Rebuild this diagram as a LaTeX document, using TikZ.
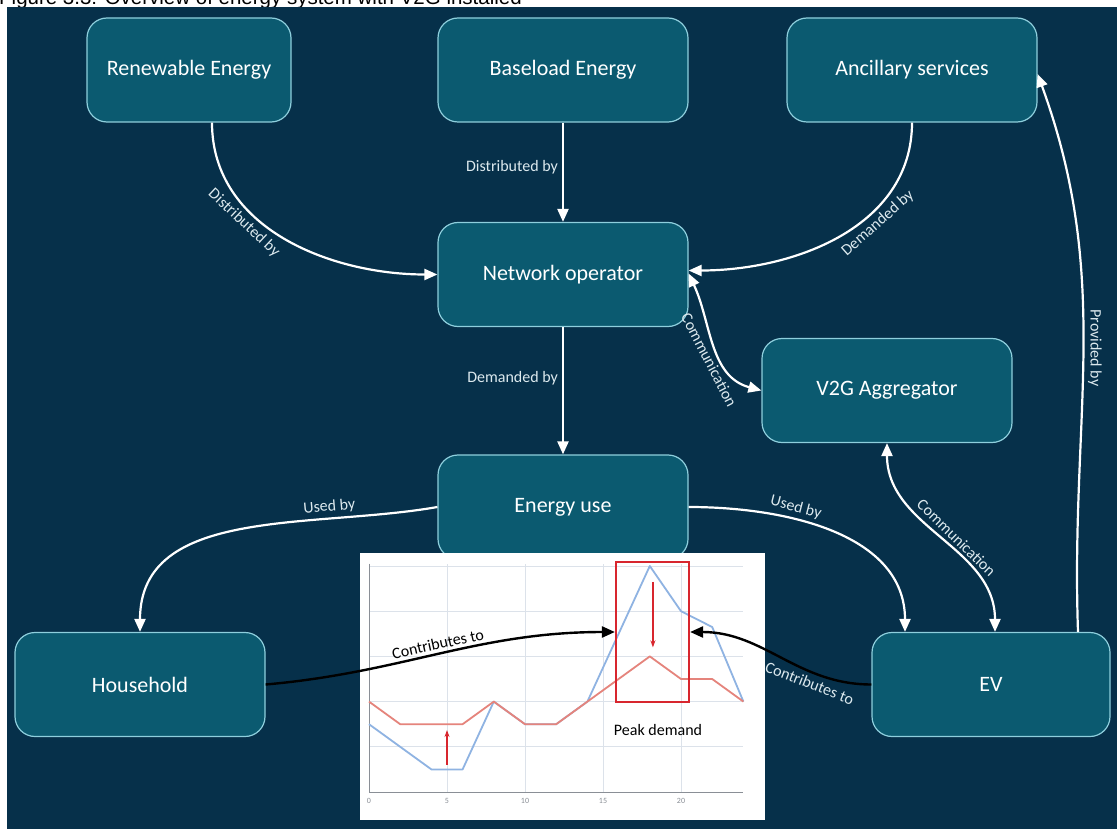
\documentclass[tikz,border=0pt]{standalone}
\usepackage{fontspec}
\setmainfont{Carlito}
\newfontfamily\capfont{Liberation Sans}
\usetikzlibrary{arrows.meta}

\definecolor{navybg}{HTML}{06304A}
\definecolor{boxteal}{HTML}{0B5A70}
\definecolor{boxline}{HTML}{8ECFDD}
\definecolor{tagwhite}{HTML}{DCE9EE}
\definecolor{gridgrey}{HTML}{DCE2EA}
\definecolor{axisgrey}{HTML}{8A8F96}
\definecolor{demandblue}{HTML}{8FB3E2}
\definecolor{demandred}{HTML}{E5847C}
\definecolor{peakred}{HTML}{D8262E}

\begin{document}
\begin{tikzpicture}[x=1pt, y=-1pt,
    box/.style={draw=boxline, line width=1.2pt, fill=boxteal, rounded corners=20pt,
        minimum width=250pt, minimum height=104pt, text=white, font=\fontsize{22}{26}\selectfont},
    flow/.style={draw=white, line width=2.2pt, -{Triangle[length=13pt,width=11pt]}},
    twoway/.style={flow, {Triangle[length=13pt,width=11pt]}-{Triangle[length=13pt,width=11pt]}},
    backflow/.style={flow, {Triangle[length=13pt,width=11pt]}-},
    tag/.style={text=tagwhite, font=\fontsize{16}{19}\selectfont, inner sep=4pt},
    contrib/.style={draw=black, line width=2.4pt, -{Triangle[length=13pt,width=11pt]}},
    gridline/.style={draw=gridgrey, line width=0.9pt},
    curveline/.style={line width=1.8pt, line join=round},
    redarrow/.style={draw=peakred, line width=1.3pt, -{Stealth[length=7pt,width=5pt]}}]
    \useasboundingbox (0,0) rectangle (1117,829);

    % caption and background
    \node[anchor=base west, inner sep=0, font=\capfont\fontsize{20.5}{24}\selectfont] at (-1,5) (caption)
        {Figure 3.3: Overview of energy system with V2G installed};
    \fill[navybg] (7,7) rectangle (1117,829);

    % boxes
    \node[box, minimum width=204pt] at (189,70) (ren) {Renewable Energy};
    \node[box] at (563,70) (base) {Baseload Energy};
    \node[box] at (912,70) (anc) {Ancillary services};
    \node[box] at (563,274.5) (net) {Network operator};
    \node[box] at (887,390.5) (agg) {V2G Aggregator};
    \node[box] at (563,507) (use) {Energy use};
    \node[box] at (140,684.5) (home) {Household};
    \node[box, minimum width=238pt] at (991,684.5) (ev) {EV};

    % flows
    \draw[flow] ([xshift=23pt]ren.south) to[out=-90,in=180] node[tag, pos=0.36, sloped, below] {Distributed by} (net.west);
    \draw[flow] (base.south) -- node[tag, pos=0.45, left] {Distributed by} (net.north);
    \draw[flow] (anc.south) to[out=-90,in=0] node[tag, pos=0.37, sloped, below] {Demanded by} ([yshift=4pt]net.east);
    \draw[twoway] ([yshift=1pt]net.east) to[out=-65,in=165] node[tag, pos=0.58, sloped, below] {Communication} (agg.west);
    \draw[flow] (net.south) -- node[tag, pos=0.4, left] {Demanded by} (use.north);
    \draw[flow] (use.west) to[out=190,in=90] node[tag, pos=0.27, sloped, above] {Used by} (home.north);
    \draw[flow] (use.east) to[out=0,in=90] node[tag, pos=0.35, sloped, above] {Used by} ([xshift=-86pt]ev.north);
    \draw[twoway] (agg.south) to[out=-90,in=90] node[tag, pos=0.55, sloped, above] {Communication} ([xshift=4pt]ev.north);
    \draw[backflow] ([yshift=-4pt]anc.east) to[out=-70,in=92] node[tag, pos=0.5, rotate=-90, above] {Provided by} ([xshift=87pt]ev.north);

    % demand chart
    \fill[white] (360,553) rectangle (765,820);
    \begin{scope}[shift={(369,792)}, x=15.6pt, y=45.2pt]
        \foreach \v in {1,...,5}
            \draw[gridline] (0,\v) -- (24,\v);
        \foreach \h in {5,10,15,20}
            \draw[gridline] (\h,0) -- (\h,5.05);
        \draw[axisgrey, line width=1pt] (0,5.05) -- (0,0) -- (24,0);
        \foreach \h in {0,5,...,20}
            \node[text=axisgrey, font=\fontsize{8}{9}\selectfont] at (\h,-0.2) {\h};
        \draw[curveline, demandblue] (0,1.5) -- (4,0.5) -- (6,0.5) -- (8,2) -- (10,1.5) -- (12,1.5)
            -- (14,2) -- (18,5) -- (20,4) -- (22,3.65) -- (24,2);
        \draw[curveline, demandred] (0,2) -- (2,1.5) -- (6,1.5) -- (8,2) -- (10,1.5) -- (12,1.5)
            -- (18,3) -- (20,2.5) -- (22,2.5) -- (24,2);
        \draw[redarrow] (18.2,4.65) -- (18.2,3.2);
        \draw[redarrow] (5,0.6) -- (5,1.37);
    \end{scope}
    \node[draw=peakred, line width=2.2pt, minimum width=73pt, minimum height=140pt, inner sep=0] at (652.5,632) (peak) {};
    \node[font=\fontsize{16}{19}\selectfont] at (658,730) (peaktext) {Peak demand};

    % contributions
    \draw[contrib] (home.east) to[out=5,in=180] node[pos=0.5, sloped, above, font=\fontsize{16}{19}\selectfont] {Contributes to} (peak.west);
    \draw[contrib] (ev.west) to[out=180,in=0] node[tag, pos=0.3, sloped, below] {Contributes to} (peak.east);
\end{tikzpicture}
\end{document}
